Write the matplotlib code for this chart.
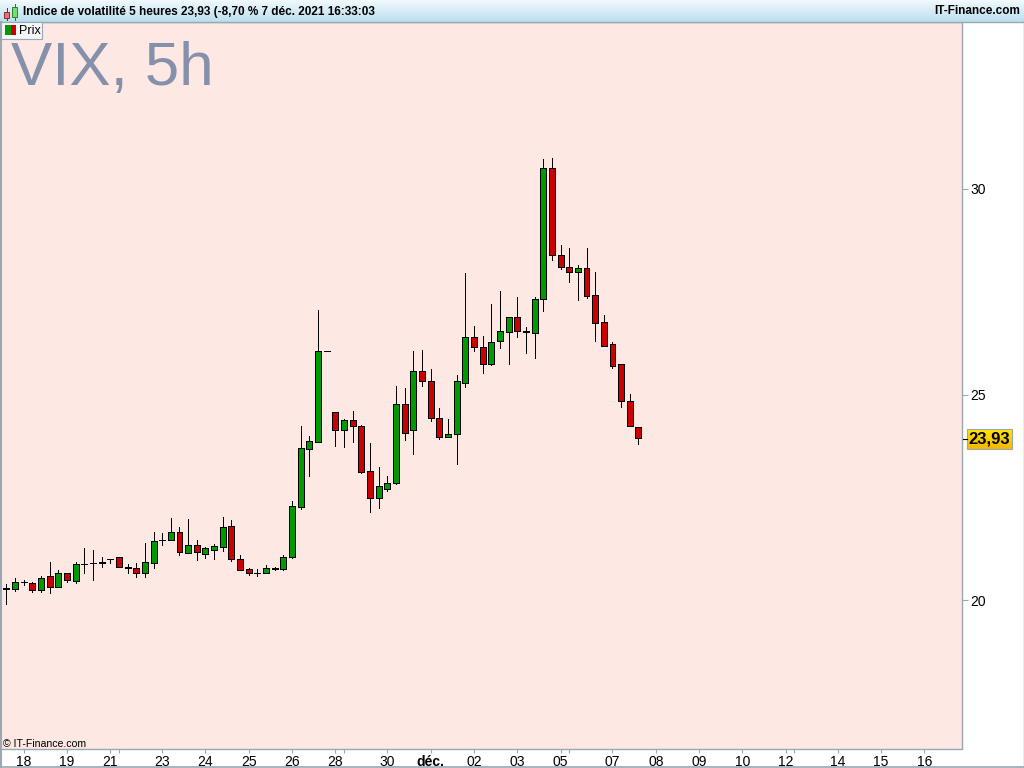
import matplotlib
matplotlib.use('Agg')
import matplotlib.pyplot as plt
import numpy as np
from matplotlib.patches import Rectangle

opens = [20.28, 20.28, 20.43, 20.41, 20.25, 20.58, 20.32, 20.65, 20.47, 20.87,
         20.89, 20.89, 20.99, 21.04, 20.79, 20.79, 20.67, 20.91, 21.45, 21.47,
         21.65, 21.15, 21.33, 21.13, 21.22, 21.30, 21.79, 21.01, 20.75, 20.67,
         20.67, 20.76, 20.76, 21.05, 22.27, 23.68, 23.85, 26.05, 24.57, 24.14,
         24.37, 24.23, 23.13, 22.49, 22.71, 22.85, 24.78, 24.14, 25.56, 25.34,
         24.42, 23.97, 24.03, 25.29, 26.39, 26.15, 25.75, 26.29, 26.53, 26.88,
         26.53, 26.50, 27.33, 30.50, 28.39, 28.09, 27.99, 28.07, 27.41, 26.76,
         26.24, 25.73, 24.83, 24.20]
closes = [20.30, 20.43, 20.45, 20.25, 20.53, 20.32, 20.67, 20.49, 20.87, 20.87,
          20.89, 20.92, 20.99, 20.81, 20.81, 20.67, 20.92, 21.43, 21.47, 21.65,
          21.18, 21.33, 21.18, 21.26, 21.31, 21.77, 21.01, 20.74, 20.67, 20.67,
          20.79, 20.78, 21.04, 22.28, 23.69, 23.86, 26.05, 26.05, 24.14, 24.37,
          24.24, 23.12, 22.49, 22.77, 22.84, 24.78, 24.07, 25.56, 25.34, 24.44,
          23.97, 24.03, 25.32, 26.41, 26.16, 25.75, 26.27, 26.54, 26.88, 26.55,
          26.55, 27.32, 30.50, 28.40, 28.11, 27.99, 28.07, 27.40, 26.75, 26.19,
          25.70, 24.83, 24.24, 23.93]
highs = [20.38, 20.53, 20.49, 20.45, 20.58, 20.92, 20.73, 20.65, 20.92, 21.27,
         21.22, 21.05, 20.99, 21.04, 20.88, 20.89, 21.39, 21.65, 21.63, 22.00,
         21.78, 21.97, 21.46, 21.28, 21.36, 22.02, 21.95, 21.09, 20.78, 20.75,
         20.85, 20.80, 21.09, 22.41, 24.23, 23.99, 27.06, 26.05, 24.57, 24.40,
         24.60, 24.26, 23.82, 23.24, 23.02, 25.21, 25.16, 26.06, 26.08, 25.62,
         24.67, 24.40, 25.47, 27.96, 26.67, 26.42, 27.20, 27.52, 26.88, 27.37,
         26.64, 27.37, 30.73, 30.75, 28.64, 28.56, 28.15, 28.56, 27.98, 26.93,
         26.28, 25.73, 25.01, 24.20]
lows = [19.90, 20.23, 20.37, 20.19, 20.19, 20.17, 20.32, 20.44, 20.42, 20.66,
        20.49, 20.80, 20.90, 20.81, 20.66, 20.56, 20.56, 20.78, 21.34, 21.46,
        21.09, 21.15, 20.97, 21.02, 21.00, 21.19, 20.96, 20.73, 20.61, 20.58,
        20.67, 20.73, 20.73, 21.02, 22.21, 23.02, 23.85, 26.05, 23.75, 23.72,
        23.84, 23.09, 22.14, 22.24, 22.65, 22.82, 23.89, 23.55, 25.21, 24.36,
        23.92, 23.97, 23.31, 25.18, 26.06, 25.52, 25.72, 26.13, 25.74, 26.40,
        26.01, 25.89, 27.03, 28.27, 28.05, 27.74, 27.30, 27.35, 26.30, 26.19,
        25.64, 24.70, 24.24, 23.80]

tick_pos = [2, 7, 12, 13, 18, 23, 28, 33, 38, 39, 44, 49, 54, 59, 64, 65, 70, 75,
            80, 85, 90, 91, 96, 101, 106]
tick_txt = ['18', '19', '21', '', '23', '24', '25', '26', '28', '', '30', 'déc.',
            '02', '03', '05', '', '07', '08', '09', '10', '12', '', '14', '15', '16']
y_ticks = [20, 25, 30]
last_price = 23.93

title = 'Indice de volatilité 5 heures 23,93 (-8,70 % 7 déc. 2021 16:33:03'

GREY = '#9aa8b0'
PINK = '#fde8e4'
FONT = 'Liberation Sans'

opens, closes = np.array(opens), np.array(closes)
highs, lows = np.array(highs), np.array(lows)
x = np.arange(len(opens))
up = closes >= opens
colors = np.where(up, '#009900', '#cc0000')

fig = plt.figure(figsize=(10.24, 7.68), dpi=100, facecolor='white')

# zone du graphique : x 1-962, y 22-748 en pixels
ax = fig.add_axes([1/1024, 1-748.5/768, 961/1024, 726.5/768], facecolor=PINK)
ax.set_xlim(-0.612, 110.36)
ax.set_ylim(16.39, 34.06)

ax.vlines(x, lows, highs, color='black', lw=0.6, zorder=2, antialiased=False)
ax.bar(x, np.abs(closes-opens), bottom=np.minimum(opens, closes), width=0.69,
       color=colors, edgecolor='black', linewidth=0.6, zorder=3, antialiased=False)

ax.yaxis.tick_right()
ax.set_yticks(y_ticks)
ax.set_yticklabels([str(v) for v in y_ticks], fontname=FONT, fontsize=10)
ax.set_xticks(tick_pos)
ax.set_xticklabels(tick_txt, fontname=FONT, fontsize=10)
ax.tick_params(axis='x', length=3, width=0.8, color=GREY, pad=1.5)
ax.tick_params(axis='y', length=4, width=0.8, color=GREY, pad=2)
for lab in ax.get_xticklabels():
    if lab.get_text() == 'déc.':
        lab.set_fontweight('bold')
for name, s in ax.spines.items():
    s.set_color(GREY)
    s.set_linewidth(1)
ax.spines['left'].set_visible(False)

ax.text(10/961, 1-63/726.5, 'VIX, 5h', transform=ax.transAxes, fontname=FONT,
        fontsize=44.5, color='#8590ab', va='baseline', ha='left')
ax.text(2/961, 1-725/726.5, '© IT-Finance.com', transform=ax.transAxes,
        fontname=FONT, fontsize=7.6, color='black', va='baseline')

# calque en pixels pour le bandeau, la légende et le cartouche du prix
ov = fig.add_axes([0, 0, 1, 1], zorder=5)
ov.set_xlim(0, 1024)
ov.set_ylim(768, 0)
ov.axis('off')

band = np.linspace(0, 1, 22).reshape(-1, 1)
ov.imshow(band, extent=(0, 1024, 22, 0), aspect='auto', zorder=1, cmap=matplotlib.colors.LinearSegmentedColormap.from_list('b', ['#f0f9fd', '#bcdfee']))
tag = np.linspace(0, 1, 20).reshape(-1, 1)
ov.imshow(tag, extent=(967, 1012, 449, 429), aspect='auto', zorder=1, cmap=matplotlib.colors.LinearSegmentedColormap.from_list('g', ['#ffe600', '#f4b800']))
ov.set_xlim(0, 1024)
ov.set_ylim(768, 0)

ov.add_patch(Rectangle((967, 429), 45, 20, fill=False, ec=GREY, lw=0.8, zorder=2))
ov.plot([963, 967], [438.5, 438.5], color='black', lw=0.8, zorder=2)
ov.text(989.5, 439.5, f'{last_price:.2f}'.replace('.', ','), fontname=FONT, fontsize=12,
        fontweight='bold', ha='center', va='center', zorder=3)

ov.plot([0, 1024], [22, 22], color=GREY, lw=1, zorder=2)
ov.plot([0.5, 0.5], [22, 768], color=GREY, lw=1.5, zorder=2)
ov.plot([1023.5, 1023.5], [22, 768], color=GREY, lw=1, zorder=2)
ov.plot([0, 1024], [767, 767], color=GREY, lw=1.2, zorder=2)

ov.text(23, 11.5, title, fontname=FONT, fontsize=8.5, fontweight='bold', va='center', zorder=3)
ov.text(1020, 11.5, 'IT-Finance.com', fontname=FONT, fontsize=8.5, fontweight='bold',
        va='center', ha='right', zorder=3)

# icone du bandeau
ov.plot([6.5, 6.5], [8, 20], color='#802020', lw=0.7, zorder=2)
ov.add_patch(Rectangle((4, 12), 5, 6, fc='#f07070', ec='#803030', lw=0.7, zorder=3))
ov.plot([14.5, 14.5], [4, 20], color='#207020', lw=0.7, zorder=2)
ov.add_patch(Rectangle((12, 7), 5, 10, fc='#70e070', ec='#308030', lw=0.7, zorder=3))

# legende Prix
ov.add_patch(Rectangle((1, 22), 41, 17, fc='#f3f7f8', ec=GREY, lw=0.8, zorder=2))
ov.add_patch(Rectangle((5, 25), 6, 10, fc='#009900', ec='none', zorder=3))
ov.add_patch(Rectangle((11, 25), 5, 10, fc='#cc0000', ec='none', zorder=3))
ov.text(19.5, 30.5, 'Prix', fontname=FONT, fontsize=9, va='center', zorder=3)

fig.savefig('out.png', dpi=100)
